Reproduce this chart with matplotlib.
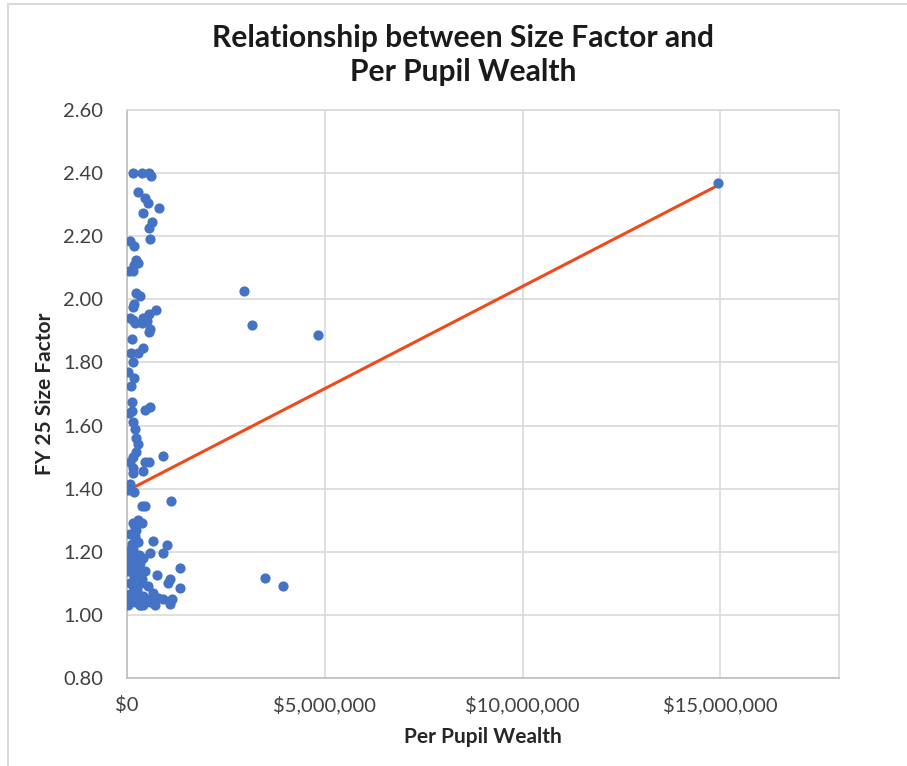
import matplotlib
matplotlib.use("Agg")
import matplotlib.pyplot as plt
from matplotlib.ticker import FuncFormatter
from matplotlib.lines import Line2D

plt.rcParams['font.family'] = ['Lato', 'DejaVu Sans']

# Per pupil wealth (in $ millions) and FY 25 size factor
wealth_m = [
    0.14, 0.38, 0.56, 0.61, 0.28, 0.45, 0.52, 0.81, 0.40, 0.63, 0.56, 0.58,
    0.08, 0.18, 0.24, 0.29, 0.18, 0.05, 0.15, 0.24, 0.33, 0.18, 0.15, 0.73,
    0.56, 0.08, 0.41, 0.50, 0.20, 0.37, 0.58, 0.15, 0.45, 0.56, 0.12, 0.41,
    0.28, 0.10, 0.15, 0.03, 0.18, 0.09, 0.12, 0.05, 0.12, 0.58, 0.45, 0.15,
    0.20, 0.23, 0.29, 0.23, 0.15, 0.08, 0.91, 0.45, 0.56, 0.14, 0.15, 0.41,
    0.08, 0.03, 0.18, 1.10, 0.37, 0.45, 0.28, 0.15, 0.37, 0.08, 0.20, 0.66,
    0.12, 1.00, 0.03, 0.58, 0.91, 0.24, 0.41, 0.12, 0.33, 1.34, 0.03, 0.45,
    0.20, 0.75, 1.09, 0.37, 0.08, 1.04, 0.53, 1.34, 0.24, 0.66, 0.08, 0.41,
    0.78, 0.91, 1.13, 0.15, 0.58, 1.09, 0.03, 0.33, 0.71, 0.10, 0.22, 0.30,
    0.18, 0.26, 0.12, 0.35, 0.06, 0.28, 0.20, 0.16, 0.48, 0.10, 0.25, 0.14,
    0.32, 0.22, 0.05, 0.40, 0.27, 0.19,
    2.95, 3.15, 4.82, 3.48, 3.94, 14.95,
]
size_factor = [
    2.40, 2.40, 2.40, 2.39, 2.34, 2.32, 2.305, 2.29, 2.275, 2.245, 2.225, 2.19,
    2.185, 2.17, 2.125, 2.115, 2.11, 2.09, 2.09, 2.02, 2.01, 1.985, 1.975, 1.965,
    1.955, 1.94, 1.94, 1.93, 1.925, 1.925, 1.905, 1.935, 1.94, 1.895, 1.875, 1.845,
    1.83, 1.83, 1.80, 1.77, 1.75, 1.725, 1.675, 1.64, 1.645, 1.66, 1.65, 1.61,
    1.59, 1.56, 1.54, 1.515, 1.50, 1.485, 1.505, 1.485, 1.485, 1.465, 1.45, 1.455,
    1.415, 1.395, 1.39, 1.36, 1.345, 1.345, 1.30, 1.29, 1.29, 1.255, 1.25, 1.235,
    1.225, 1.22, 1.20, 1.195, 1.195, 1.185, 1.18, 1.17, 1.165, 1.15, 1.14, 1.14,
    1.125, 1.125, 1.115, 1.115, 1.10, 1.10, 1.09, 1.085, 1.075, 1.07, 1.065, 1.06,
    1.055, 1.05, 1.05, 1.045, 1.04, 1.035, 1.03, 1.03, 1.03, 1.21, 1.27, 1.19,
    1.12, 1.08, 1.15, 1.10, 1.06, 1.23, 1.04, 1.21, 1.05, 1.16, 1.13, 1.09,
    1.03, 1.05, 1.18, 1.03, 1.135, 1.28,
    2.025, 1.918, 1.888, 1.117, 1.093, 2.368,
]

# Linear trendline as displayed (intercept, slope per $1M)
trend_x_m = [0.0, 14.95]
trend_intercept = 1.393
trend_slope = 0.0648

x_ticks_m = [0, 5, 10, 15]
y_ticks = [0.80, 1.00, 1.20, 1.40, 1.60, 1.80, 2.00, 2.20, 2.40, 2.60]

title = "Relationship between Size Factor and\nPer Pupil Wealth"
x_label = "Per Pupil Wealth"
y_label = "FY 25 Size Factor"

W, H = 907, 766
fig = plt.figure(figsize=(W / 100, H / 100), dpi=100)
ax = fig.add_axes([127/W, 1-678/H, (839-127)/W, (678-110)/H])

xs = [v * 1e6 for v in wealth_m]
ax.scatter(xs, size_factor, s=54, color='#4472C4', zorder=3, linewidths=0)

tx = [v * 1e6 for v in trend_x_m]
ty = [trend_intercept + trend_slope * v for v in trend_x_m]
ax.plot(tx, ty, color='#EE4B1C', linewidth=2.2, zorder=2, solid_capstyle='butt')

ax.set_xlim(0, 18e6)
ax.set_ylim(0.80, 2.60)
ax.set_xticks([v * 1e6 for v in x_ticks_m])
ax.set_yticks(y_ticks)
ax.xaxis.set_major_formatter(FuncFormatter(lambda v, p: "${:,.0f}".format(v)))
ax.yaxis.set_major_formatter(FuncFormatter(lambda v, p: "{:.2f}".format(v)))

ax.grid(True, color='#D9D9D9', linewidth=1.2, zorder=0)
ax.set_axisbelow(True)
for s in ['top', 'right']:
    ax.spines[s].set_color('#D9D9D9')
    ax.spines[s].set_linewidth(1.2)
for s in ['left', 'bottom']:
    ax.spines[s].set_color('#BFBFBF')
    ax.spines[s].set_linewidth(1.2)
ax.tick_params(axis='both', length=0, labelsize=14.5, colors='#404040')
ax.tick_params(axis='y', pad=17)
ax.tick_params(axis='x', pad=13)

fig.text(483/W, 1-737/H, x_label, ha='center', va='center',
         fontsize=15, fontweight='bold', color='#262626')
fig.text(45/W, 1-394/H, y_label, rotation=90, ha='center', va='center',
         fontsize=15, fontweight='bold', color='#262626')

fig.text(463/W, 1-55/H, title, ha='center', va='center', fontsize=21.6,
         fontweight='bold', color='#1a1a1a', linespacing=1.3)

# chart border
fig.add_artist(Line2D([8/W, 1], [1-4/H, 1-4/H], color='#D9D9D9', linewidth=1.5, transform=fig.transFigure))
fig.add_artist(Line2D([8/W, 8/W], [0, 1-4/H], color='#D9D9D9', linewidth=1.5, transform=fig.transFigure))

fig.savefig("out.png", dpi=100)
